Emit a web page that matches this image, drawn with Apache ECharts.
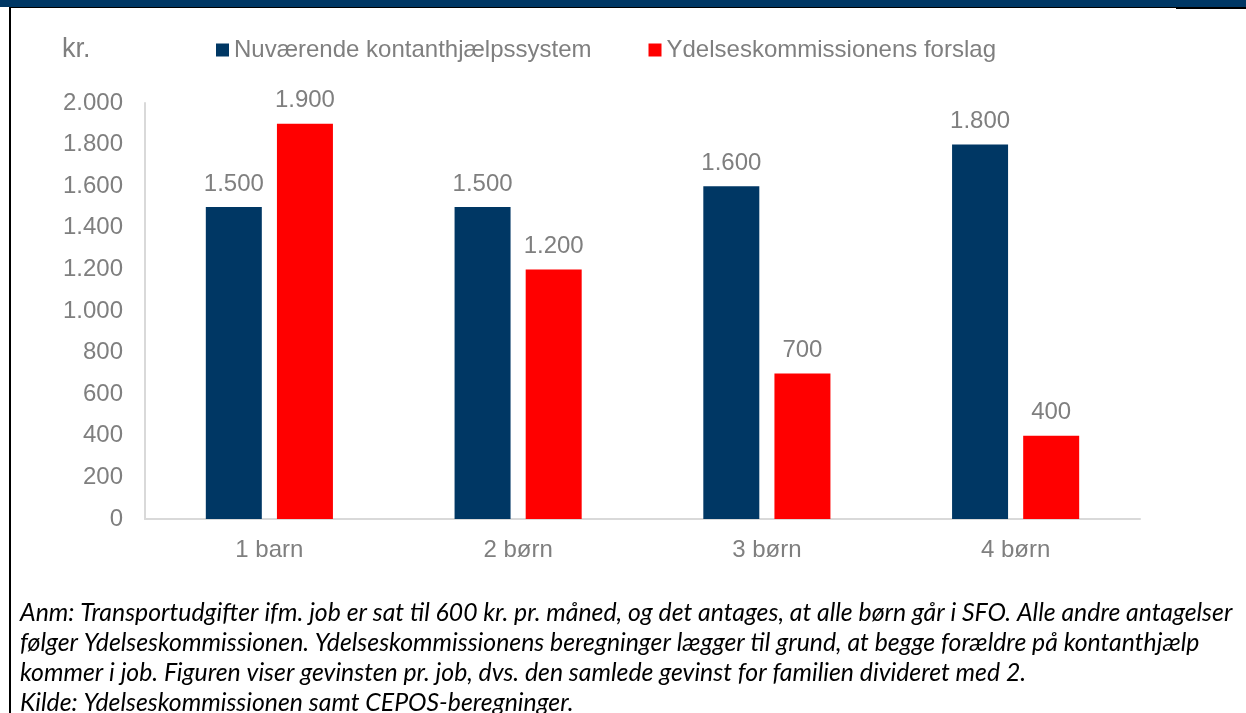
<!DOCTYPE html>
<html>
<head>
<meta charset="utf-8">
<script src="https://cdn.jsdelivr.net/npm/echarts@6/dist/echarts.min.js"></script>
<style>
  html, body { margin: 0; padding: 0; background: #fff; }
  #chart { width: 1246px; height: 713px; }
</style>
</head>
<body>
<div id="chart"></div>
<script>
const categories = ['1 barn', '2 børn', '3 børn', '4 børn']
const nuvaerende = [1500, 1500, 1600, 1800]
const forslag = [1900, 1200, 700, 400]
const seriesNames = ['Nuværende kontanthjælpssystem', 'Ydelseskommissionens forslag']
const noteLines = [
  'Anm: Transportudgifter ifm. job er sat til 600 kr. pr. måned, og det antages, at alle børn går i SFO. Alle andre antagelser',
  'følger Ydelseskommissionen. Ydelseskommissionens beregninger lægger til grund, at begge forældre på kontanthjælp',
  'kommer i job. Figuren viser gevinsten pr. job, dvs. den samlede gevinst for familien divideret med 2.',
  'Kilde: Ydelseskommissionen samt CEPOS-beregninger.'
]

const grey = '#7f7f7f'
const font = 'Liberation Sans'

// tusindtalsseparator med punktum
function fmt(v) {
  return String(v).replace(/\B(?=(\d{3})+(?!\d))/g, '.')
}

const chart = echarts.init(document.getElementById('chart'))

const noteGraphics = noteLines.map((line, i) => ({
  type: 'text',
  left: 20,
  top: 601 + i * 29.7,
  style: {
    text: line,
    fill: '#000',
    font: 'italic 24.8px Lato'
  }
}))

const barLabel = {
  show: true,
  position: 'top',
  distance: 11,
  color: grey,
  fontSize: 24,
  fontFamily: font,
  formatter: p => fmt(p.value)
}

chart.setOption({
  animation: false,
  textStyle: { fontFamily: font },
  grid: { left: 145, right: 106, top: 103, bottom: 194 },
  legend: {
    left: 211,
    top: 33,
    icon: 'rect',
    itemWidth: 13,
    itemHeight: 13,
    itemGap: 57,
    textStyle: { color: grey, fontSize: 24, fontFamily: font },
    data: seriesNames
  },
  xAxis: {
    type: 'category',
    data: categories,
    axisTick: { show: false },
    axisLine: { lineStyle: { color: '#d9d9d9', width: 2 } },
    axisLabel: { color: grey, fontSize: 24, margin: 19 }
  },
  yAxis: {
    type: 'value',
    min: 0,
    max: 2000,
    interval: 200,
    splitLine: { show: false },
    axisLine: { show: true, lineStyle: { color: '#d9d9d9', width: 2 } },
    axisTick: { show: false },
    axisLabel: { color: grey, fontSize: 24, margin: 22, formatter: fmt }
  },
  series: [
    {
      name: seriesNames[0],
      type: 'bar',
      data: nuvaerende,
      barWidth: 56,
      barGap: '27%',
      itemStyle: { color: '#003764' },
      label: barLabel
    },
    {
      name: seriesNames[1],
      type: 'bar',
      data: forslag,
      barWidth: 56,
      barGap: '27%',
      itemStyle: { color: '#ff0000' },
      label: barLabel
    }
  ],
  graphic: [
    { type: 'rect', shape: { x: 0, y: 0, width: 1246, height: 7 }, style: { fill: '#003764' } },
    { type: 'rect', shape: { x: 10, y: 7, width: 1236, height: 1 }, style: { fill: '#000' } },
    { type: 'rect', shape: { x: 1176, y: 7, width: 70, height: 2 }, style: { fill: '#000' } },
    { type: 'rect', shape: { x: 9, y: 7, width: 2, height: 706 }, style: { fill: '#000' } },
    {
      type: 'text',
      left: 62,
      top: 36,
      style: { text: 'kr.', fill: grey, font: '27px "Liberation Sans"' }
    }
  ].concat(noteGraphics)
})
</script>
</body>
</html>
